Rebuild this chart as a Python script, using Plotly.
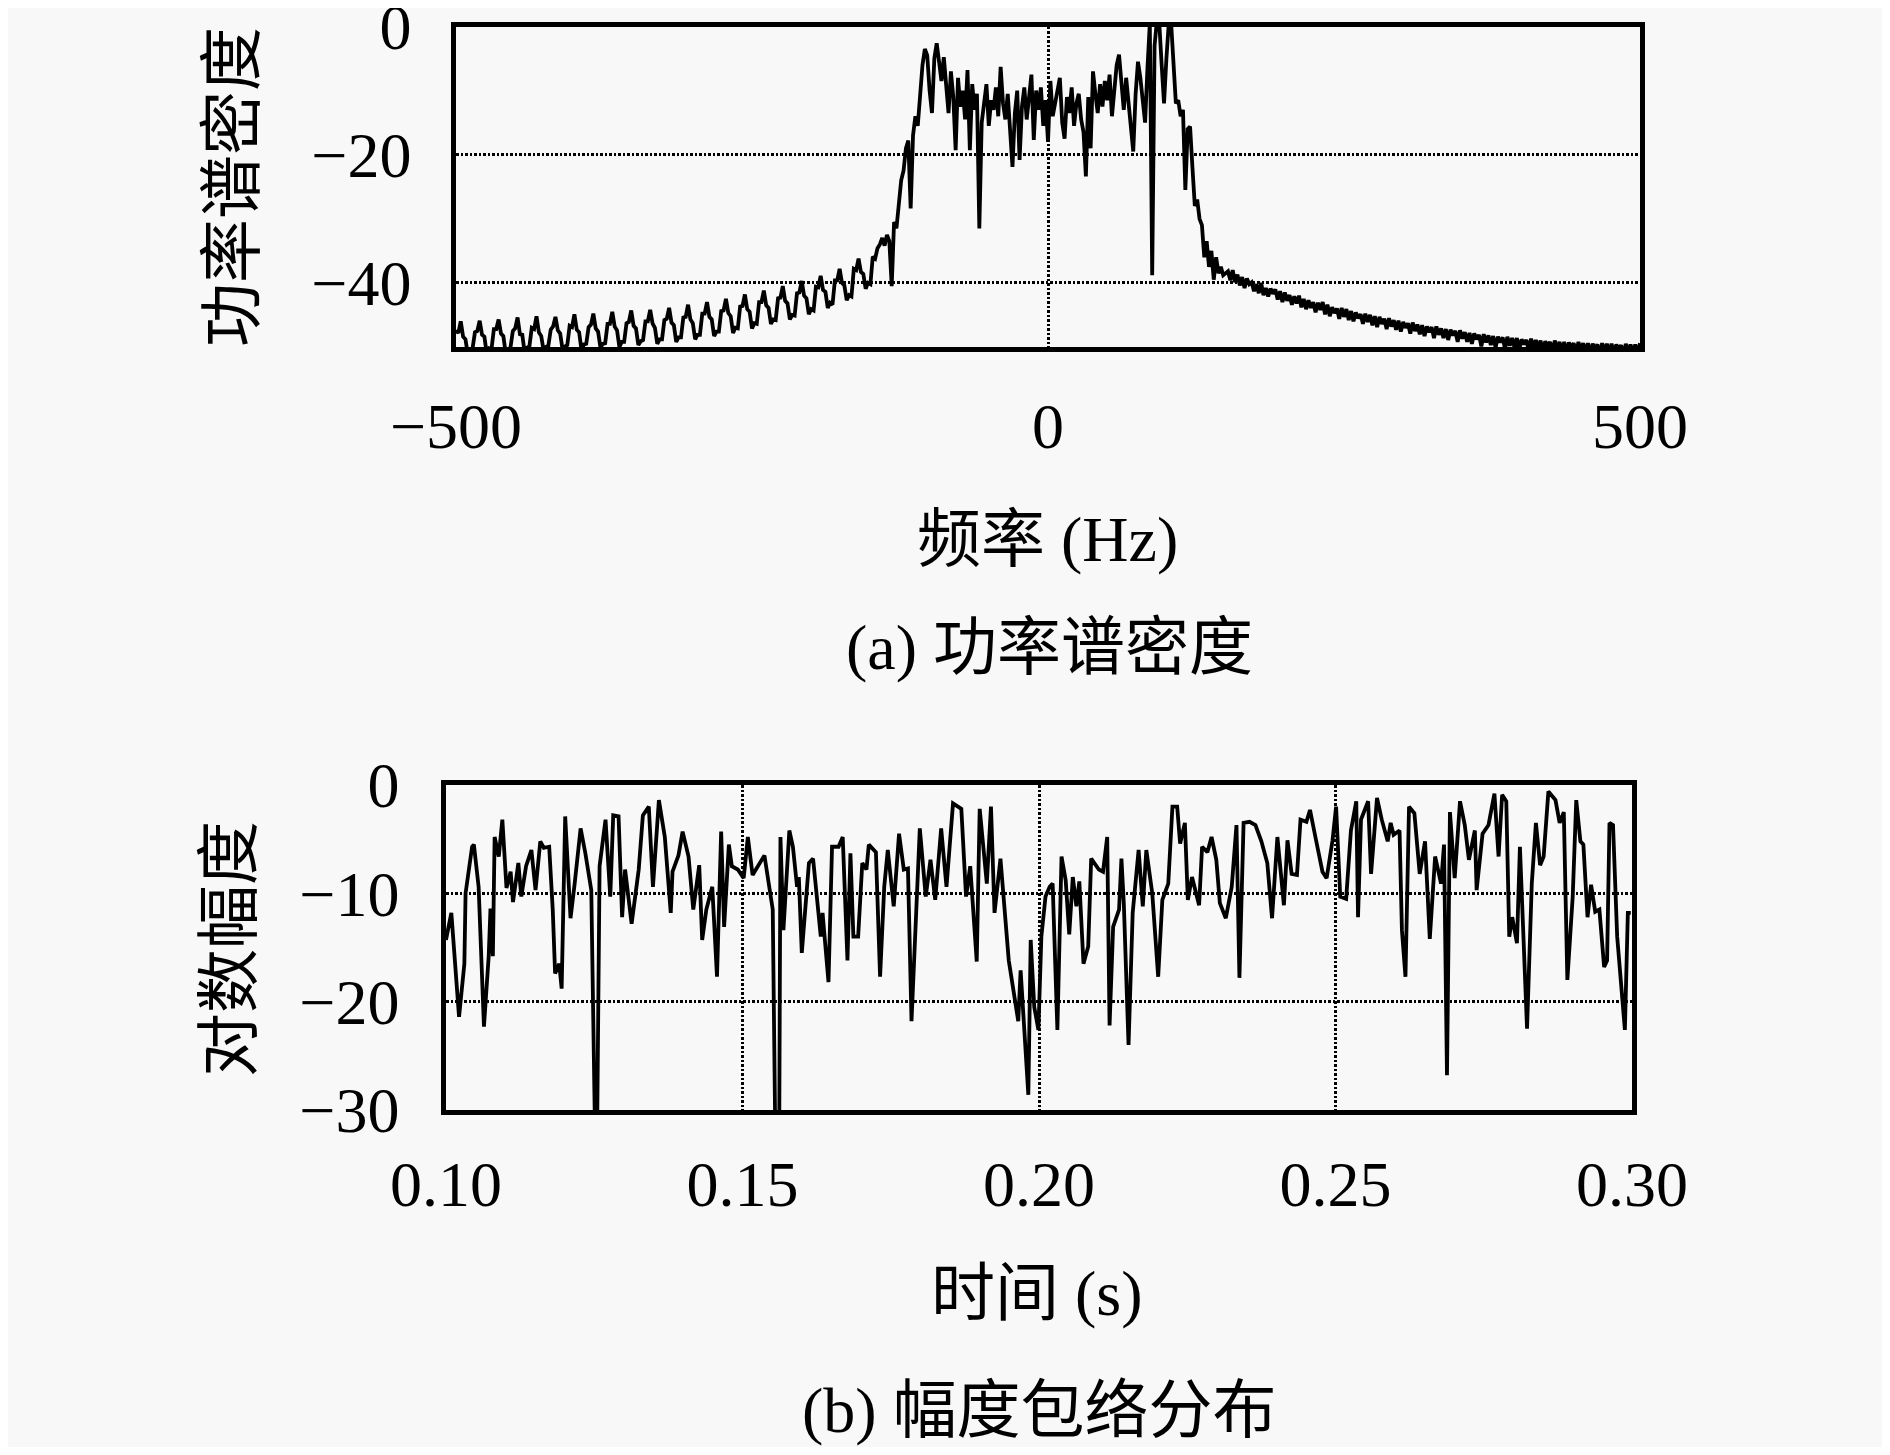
import numpy as np
import plotly.graph_objects as go

# (a) power spectral density, dB
# left tail: -500 .. -144 Hz, 2 Hz step
psd_left = [
    -47.4, -47.8, -46.0, -48.4, -48.8, -51.2, -50.4, -50.2,
    -47.7, -47.5, -45.9, -48.1, -48.4, -51.1, -50.2, -50.3,
    -47.2, -47.2, -45.7, -47.9, -48.3, -51.0, -50.4, -50.1,
    -47.5, -47.1, -45.4, -48.0, -48.1, -50.9, -50.1, -49.9,
    -47.0, -47.2, -45.2, -47.7, -48.3, -50.6, -50.0, -49.8,
    -47.3, -46.8, -45.3, -47.4, -47.9, -50.4, -49.9, -49.7,
    -46.7, -46.9, -44.9, -47.3, -47.7, -50.5, -49.6, -49.5,
    -46.9, -46.5, -44.8, -47.1, -47.6, -50.1, -49.5, -49.4,
    -46.4, -46.4, -44.5, -46.8, -47.4, -50.0, -49.2, -49.2,
    -46.3, -46.1, -44.3, -46.7, -47.1, -49.7, -49.1, -48.9,
    -46.0, -46.0, -44.2, -46.3, -47.0, -49.5, -48.8, -48.8,
    -45.8, -45.6, -43.9, -46.2, -46.6, -49.2, -48.5, -48.5,
    -45.4, -45.3, -43.4, -45.7, -46.3, -48.8, -48.1, -48.1,
    -44.8, -44.8, -43.0, -45.3, -45.7, -48.3, -47.6, -47.6,
    -44.4, -44.3, -42.5, -44.7, -45.2, -47.8, -47.0, -47.1,
    -43.7, -43.6, -41.8, -44.1, -44.5, -47.1, -46.3, -46.4,
    -43.0, -43.0, -41.2, -43.5, -43.9, -46.4, -45.7, -45.8,
    -42.4, -42.3, -40.5, -42.8, -43.2, -45.7, -45.0, -45.1,
    -41.6, -41.5, -39.7, -42.0, -42.4, -44.9, -44.1, -44.3,
    -40.6, -40.7, -38.9, -41.1, -41.4, -43.9, -43.1, -43.4,
    -39.6, -39.6, -37.8, -40.0, -40.4, -42.7, -41.9, -42.1,
    -37.8, -38.0, -36.2, -38.3, -38.6, -40.9, -40.0, -40.2,
    -35.9, -36.2, -34.6,
]
# signal band: -142 .. 148 Hz, 2 Hz step
psd_band = [
    -34.0, -33.0, -34.2, -32.5, -33.5, -40.5, -30.5, -31.5, -27.5, -24.0,
    -22.5, -19.0, -17.8, -28.4, -17.0, -14.0, -15.5, -10.5, -6.0, -3.5,
    -4.5, -10.0, -13.5, -5.0, -2.6, -5.5, -8.5, -4.8, -9.5, -13.5,
    -7.0, -11.0, -19.3, -8.0, -12.5, -10.0, -14.5, -6.8, -19.3, -9.0,
    -13.0, -10.5, -31.5, -15.0, -12.0, -9.0, -15.5, -11.5, -13.0, -9.5,
    -14.0, -6.3, -12.0, -14.5, -10.5, -16.0, -21.9, -13.5, -10.0, -20.8,
    -12.5, -9.5, -14.5, -11.0, -7.5, -17.7, -10.0, -13.0, -9.5, -15.5,
    -11.5, -18.0, -8.5, -14.0, -12.0, -10.5, -8.0, -15.0, -17.5, -11.0,
    -13.5, -9.5, -15.5, -12.0, -10.5, -14.5, -16.5, -23.4, -11.0, -19.0,
    -7.0, -10.5, -13.5, -9.0, -12.5, -8.5, -11.5, -7.5, -14.0, -10.0,
    -6.0, -4.4, -9.5, -13.0, -8.0, -11.5, -15.0, -19.5, -10.5, -5.5,
    -8.0, -12.0, -15.0, -6.5, 0.5, -38.8, -3.0, 1.0, 0.5, -6.0,
    -12.0, -5.0, 0.5, 0.5, -6.0, -12.0, -11.5, -14.0, -13.0, -25.5,
    -16.0, -15.6, -22.0, -28.0, -27.0, -30.0, -31.0, -36.0, -33.5, -37.5,
    -35.0, -39.5, -36.0, -38.5, -37.5, -38.8,
]
# right tail: 152 .. 500 Hz, 2 Hz step
psd_right = [
    -38.2, -39.6, -38.0, -39.9, -38.7, -40.4, -39.1, -40.8, -39.3, -40.2,
    -39.9, -41.3, -40.2, -41.6, -40.0, -41.9, -40.8, -42.1, -40.9, -41.7,
    -41.0, -42.6, -41.3, -43.0, -41.5, -42.8, -41.9, -43.4, -42.1, -43.2,
    -42.0, -43.8, -42.5, -44.1, -42.7, -43.9, -43.0, -44.6, -43.1, -44.2,
    -43.0, -44.9, -43.4, -45.2, -43.8, -44.7, -44.0, -45.6, -43.9, -45.3,
    -44.1, -45.8, -44.4, -46.0, -44.6, -45.5, -44.9, -46.4, -44.8, -46.1,
    -45.0, -46.6, -45.2, -46.9, -45.3, -46.4, -45.6, -47.2, -45.5, -46.8,
    -45.8, -47.3, -45.9, -47.6, -46.1, -47.0, -46.3, -47.9, -46.2, -47.5,
    -46.5, -48.0, -46.6, -48.3, -46.8, -47.7, -46.9, -48.6, -46.8, -48.1,
    -47.1, -48.6, -47.2, -48.9, -47.3, -48.2, -47.5, -49.2, -47.4, -48.7,
    -47.7, -49.2, -47.8, -49.5, -47.9, -48.8, -48.1, -49.9, -48.0, -49.3,
    -48.2, -49.7, -48.3, -50.1, -48.4, -49.3, -48.5, -50.3, -48.4, -49.8,
    -48.6, -50.1, -48.6, -50.4, -48.8, -49.6, -48.9, -50.6, -48.7, -50.1,
    -48.9, -50.4, -49.0, -50.7, -49.1, -49.9, -49.2, -50.9, -49.0, -50.4,
    -49.2, -50.6, -49.2, -50.9, -49.3, -50.1, -49.4, -51.1, -49.2, -50.6,
    -49.4, -50.8, -49.4, -51.0, -49.5, -50.3, -49.6, -51.2, -49.4, -50.7,
    -49.5, -50.9, -49.5, -51.1, -49.6, -50.4, -49.7, -51.3, -49.5, -50.8,
    -49.6, -51.0, -49.6, -51.2, -49.4,
]

# (b) log amplitude envelope
t_ms = [
    100.0, 100.9, 102.2, 103.1, 103.3, 104.4, 104.7, 105.5, 106.4, 107.2,
    107.5, 107.9, 108.2, 108.9, 109.5, 110.2, 110.9, 111.3, 112.2, 112.7,
    113.5, 114.4, 115.1, 115.9, 116.5, 117.4, 118.0, 118.4, 119.1, 119.5,
    120.1, 121.0, 121.7, 122.7, 123.5, 124.5, 125.1, 125.5, 125.9, 126.9,
    127.7, 128.2, 129.1, 129.7, 130.2, 131.3, 132.5, 133.2, 134.2, 134.9,
    135.9, 136.9, 137.9, 138.2, 139.2, 139.9, 140.9, 141.7, 142.7, 143.2,
    143.9, 144.9, 145.7, 146.4, 146.9, 147.7, 148.2, 149.2, 150.2, 150.9,
    151.7, 153.7, 155.1, 155.5, 156.2, 156.4, 156.9, 157.9, 158.5, 159.2,
    159.5, 160.0, 161.2, 161.9, 163.2, 163.5, 164.5, 165.1, 166.2, 166.9,
    167.7, 168.2, 168.7, 169.5, 170.2, 170.9, 171.3, 172.5, 173.2, 173.9,
    174.5, 175.5, 176.4, 177.2, 177.9, 178.5, 179.9, 180.9, 181.7, 182.5,
    183.5, 184.4, 185.5, 186.9, 187.7, 188.4, 189.5, 190.0, 191.2, 191.9,
    192.5, 193.5, 194.9, 196.5, 196.9, 198.2, 198.6, 199.2, 199.9, 200.4,
    201.1, 201.8, 202.3, 203.1, 203.8, 204.5, 205.1, 205.7, 206.3, 206.8,
    207.5, 208.3, 208.8, 210.1, 210.8, 211.5, 211.9, 212.5, 213.5, 213.9,
    214.3, 215.1, 215.8, 216.8, 217.5, 218.1, 219.1, 220.1, 220.8, 221.8,
    222.5, 223.3, 223.8, 224.6, 225.1, 225.8, 227.0, 227.5, 228.4, 229.1,
    229.9, 230.5, 231.5, 232.5, 233.3, 233.8, 234.5, 235.5, 236.5, 237.5,
    238.5, 239.3, 240.2, 241.3, 241.9, 242.6, 243.5, 244.1, 245.1, 245.7,
    246.5, 247.8, 248.5, 249.5, 250.1, 250.8, 251.8, 252.6, 253.5, 253.8,
    254.3, 255.5, 256.0, 257.0, 257.8, 258.8, 259.3, 259.8, 260.8, 261.2,
    261.8, 262.4, 263.3, 264.2, 265.1, 265.9, 266.8, 267.8, 268.3, 268.8,
    269.3, 270.1, 271.0, 271.8, 272.5, 273.5, 273.8, 274.8, 275.8, 276.8,
    277.5, 278.1, 278.8, 279.3, 279.8, 280.6, 281.1, 282.3, 283.1, 283.8,
    284.5, 285.1, 285.9, 287.1, 287.8, 288.5, 289.1, 290.0, 290.6, 291.3,
    291.8, 292.5, 293.1, 293.8, 294.5, 295.3, 295.8, 296.2, 296.8, 297.5,
    298.8, 299.3, 299.8,
]
amp_db = [
    -14.3, -11.8, -21.4, -16.5, -10.0, -5.7, -5.5, -9.4, -22.3, -15.8,
    -11.4, -15.8, -4.8, -6.6, -3.2, -9.5, -8.0, -10.8, -7.2, -10.3,
    -7.5, -6.0, -9.7, -5.2, -5.8, -5.7, -11.5, -17.4, -16.5, -18.8,
    -2.9, -12.3, -9.1, -4.0, -6.3, -9.7, -31.0, -31.0, -7.5, -3.2,
    -10.3, -2.8, -2.9, -12.2, -7.8, -12.8, -7.8, -2.8, -2.0, -9.4,
    -1.4, -4.8, -11.8, -8.0, -6.5, -4.3, -6.6, -11.5, -7.4, -14.3,
    -11.5, -9.4, -17.7, -4.3, -13.1, -5.5, -7.5, -7.8, -8.6, -4.8,
    -8.3, -6.5, -11.5, -31.0, -31.0, -4.8, -13.4, -4.2, -5.7, -9.4,
    -8.5, -15.5, -7.2, -6.8, -14.0, -11.8, -18.2, -5.7, -5.7, -4.8,
    -16.2, -6.3, -14.0, -14.0, -7.2, -7.8, -5.5, -6.2, -17.7, -9.4,
    -6.0, -11.2, -4.5, -7.8, -7.7, -21.8, -4.0, -10.3, -6.9, -10.6,
    -4.0, -9.4, -1.7, -2.2, -10.3, -7.5, -16.3, -2.2, -9.1, -2.0,
    -11.8, -6.8, -16.2, -21.8, -17.1, -28.6, -14.3, -20.5, -22.6, -14.0,
    -10.3, -9.4, -9.1, -22.6, -6.6, -8.8, -13.8, -8.5, -11.2, -8.9,
    -16.5, -14.9, -6.8, -7.8, -8.0, -4.8, -22.2, -13.1, -11.5, -6.8,
    -10.9, -24.0, -11.8, -6.0, -11.2, -6.0, -10.0, -17.7, -10.6, -9.1,
    -2.0, -2.0, -5.4, -3.5, -10.6, -8.5, -11.1, -5.7, -6.2, -4.8,
    -6.9, -10.9, -12.3, -9.4, -3.7, -17.8, -3.5, -3.4, -3.7, -5.2,
    -7.2, -12.3, -4.8, -11.1, -5.1, -8.2, -8.3, -3.2, -3.4, -2.3,
    -4.5, -8.0, -8.6, -5.1, -2.0, -10.3, -10.5, -4.2, -1.5, -12.2,
    -3.2, -1.5, -8.2, -1.2, -3.2, -5.2, -3.5, -4.6, -4.2, -13.4,
    -17.7, -2.0, -2.6, -8.2, -5.2, -14.2, -6.6, -9.1, -5.5, -26.8,
    -2.5, -8.6, -1.5, -3.7, -6.9, -4.2, -9.7, -4.5, -3.7, -0.8,
    -6.6, -0.9, -1.5, -14.0, -12.2, -14.6, -5.7, -22.5, -9.1, -3.5,
    -7.4, -6.6, -0.6, -1.4, -3.5, -2.5, -18.0, -10.3, -1.4, -5.2,
    -5.5, -12.2, -9.2, -11.7, -11.5, -16.8, -16.2, -3.5, -3.7, -14.0,
    -22.6, -11.8, -11.8,
]

freq = np.concatenate([
    -500 + 2 * np.arange(len(psd_left)),
    -142 + 2 * np.arange(len(psd_band)),
    152 + 2 * np.arange(len(psd_right)),
])
psd = psd_left + psd_band + psd_right
t_s = np.array(t_ms) / 1000.0

# page body has an 8px margin, so the figure is drawn 8px smaller on each side
OFF = 8
W, H = 1890 - 2 * OFF, 1455 - 2 * OFF
SERIF = "Liberation Serif"
MIXED = "Liberation Serif, Noto Sans CJK SC"
FS = 64
BG = "#f8f8f8"


def px(x):
    return (x - OFF) / W


def py(y):
    return 1 - (y - OFF) / H


fig = go.Figure()
fig.add_trace(go.Scatter(x=freq, y=psd, mode="lines",
                         line=dict(color="black", width=3.8),
                         xaxis="x", yaxis="y", showlegend=False))
fig.add_trace(go.Scatter(x=t_s, y=amp_db, mode="lines",
                         line=dict(color="black", width=3.8),
                         xaxis="x2", yaxis="y2", showlegend=False))

axis = dict(showline=True, mirror=True, linecolor="black", linewidth=4.5,
            showgrid=True, gridcolor="black", gridwidth=2.6, griddash="2.5px,2px",
            zeroline=False, ticks="", automargin=False, ticklabeloverflow="allow",
            tickfont=dict(family=SERIF, size=FS, color="black"))

fig.update_layout(
    width=W, height=H,
    margin=dict(l=0, r=0, t=0, b=0, autoexpand=False),
    paper_bgcolor=BG, plot_bgcolor=BG,
    xaxis=dict(axis, domain=[px(456), px(1640)], range=[-500, 500], anchor="y",
               tickvals=[-500, 0, 500], ticktext=["\u2212500", "0", "500"],
               ticklabelstandoff=19),
    yaxis=dict(axis, domain=[py(347), py(26.5)], range=[-50, 0], anchor="x",
               tickvals=[-40, -20, 0], ticktext=["\u221240", "\u221220", "0"],
               ticklabelstandoff=27),
    xaxis2=dict(axis, domain=[px(446), px(1632)], range=[0.1, 0.3], anchor="y2",
                tickvals=[0.10, 0.15, 0.20, 0.25, 0.30],
                ticktext=["0.10", "0.15", "0.20", "0.25", "0.30"],
                ticklabelstandoff=14),
    yaxis2=dict(axis, domain=[py(1110), py(785)], range=[-30, 0], anchor="x2",
                tickvals=[-30, -20, -10, 0],
                ticktext=["\u221230", "\u221220", "\u221210", "0"],
                ticklabelstandoff=29),
)


def label(text, x, y, angle=0):
    fig.add_annotation(text=text, x=px(x), y=py(y), xref="paper", yref="paper",
                       xanchor="center", yanchor="middle",
                       showarrow=False, textangle=angle,
                       font=dict(family=MIXED, size=FS, color="black"))


label("功率谱密度", 233, 187, -90)
label("频率 (Hz)", 1047, 539)
label("(a) 功率谱密度", 1049, 647)
label("对数幅度", 229, 949, -90)
label("时间 (s)", 1037, 1293)
label("(b) 幅度包络分布", 1039, 1410)

fig.write_html("out.html")
